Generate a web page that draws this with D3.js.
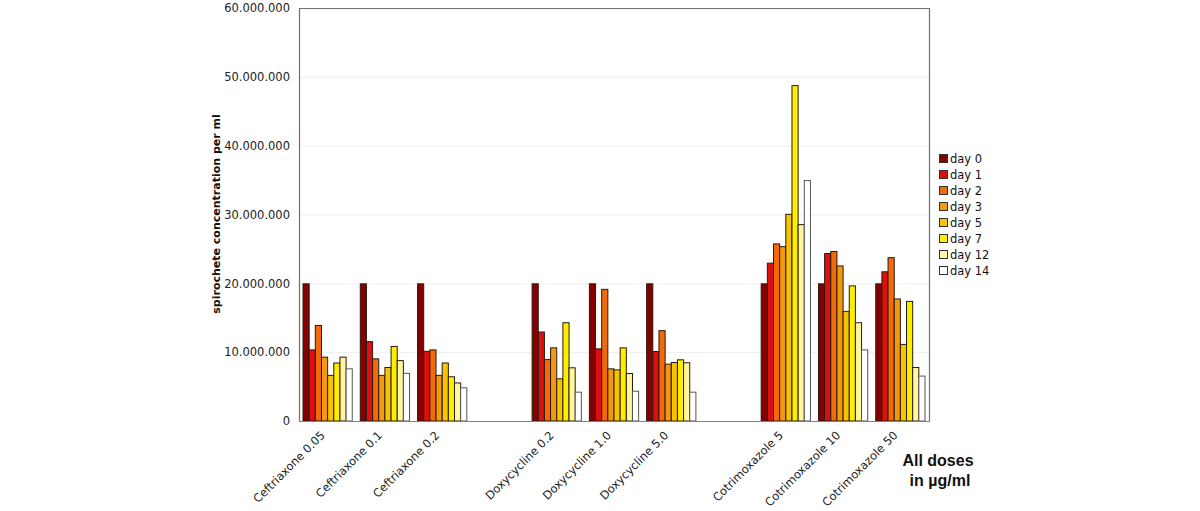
<!DOCTYPE html>
<html><head><meta charset="utf-8">
<script src="https://cdn.jsdelivr.net/npm/d3@7"></script>
<style>body{margin:0;background:#fff;}svg{display:block;font-family:"DejaVu Sans",Verdana,sans-serif;}</style>
</head><body><svg id="c" width="1200" height="511"></svg>
<script>
const categories = ["Ceftriaxone 0.05","Ceftriaxone 0.1","Ceftriaxone 0.2","gap1","Doxycycline 0.2","Doxycycline 1.0","Doxycycline 5.0","gap2","Cotrimoxazole 5","Cotrimoxazole 10","Cotrimoxazole 50"];
const seriesNames = ["day 0","day 1","day 2","day 3","day 5","day 7","day 12","day 14"];
const seriesColors = ["#850000","#dd1010","#f26a0a","#f3990f","#f7c500","#fdee00","#fff7a0","#ffffff"];
const day0  = [20000000,20000000,20000000,null,20000000,20000000,20000000,null,20000000,20000000,20000000];
const day1  = [10400000,11600000,10200000,null,13000000,10550000,10170000,null,23000000,24400000,21750000];
const day2  = [13950000,9100000,10400000,null,9000000,19200000,13200000,null,25800000,24700000,23800000];
const day3  = [9350000,6700000,6700000,null,10700000,7650000,8330000,null,25400000,22600000,17800000];
const day5  = [6700000,7850000,8500000,null,6200000,7500000,8570000,null,30100000,16000000,11200000];
const day7  = [8500000,10900000,6500000,null,14350000,10700000,8960000,null,48800000,19700000,17450000];
const day12 = [9350000,8850000,5600000,null,7800000,6970000,8530000,null,28600000,14350000,7850000];
const day14 = [7650000,7000000,4900000,null,4260000,4400000,4260000,null,35000000,10400000,6600000];
const yTicks = [0,10000000,20000000,30000000,40000000,50000000,60000000];
const yTickLabels = ["0","10.000.000","20.000.000","30.000.000","40.000.000","50.000.000","60.000.000"];
const series = [day0,day1,day2,day3,day5,day7,day12,day14];

const svg = d3.select("#c");
const L=299,R=929,T=8,B=421;
const x = d3.scaleBand().domain(categories).range([L,R]).paddingInner(0.14).paddingOuter(0.07);
const xs = d3.scaleBand().domain(seriesNames).range([0,x.bandwidth()]);
const y = d3.scaleLinear().domain([0,60000000]).range([B,T]);

// gridlines
svg.append("g").selectAll("line").data(yTicks.slice(1,-1)).join("line")
  .attr("x1",L).attr("x2",R).attr("y1",d=>y(d)+0.5).attr("y2",d=>y(d)+0.5)
  .attr("stroke","#eeeeee");

// bars
const g = svg.append("g");
series.forEach((vals,si)=>{
  g.append("g").selectAll("rect").data(categories.map((c,i)=>({c,v:vals[i]})).filter(d=>d.v!=null)).join("rect")
    .attr("x",d=>x(d.c)+xs(seriesNames[si]))
    .attr("y",d=>y(d.v)+0.5)
    .attr("width",xs.bandwidth())
    .attr("height",d=>B-y(d.v)-0.5)
    .attr("fill",seriesColors[si])
    .attr("stroke",si===7?"#555":"#2a1a10").attr("stroke-width",1);
});

// frame
svg.append("path").attr("d",`M${L+0.5},${B+0.5}V${T+0.5}H${R+0.5}V${B+0.5}`).attr("fill","none").attr("stroke","#707070").attr("stroke-width",1.2);
svg.append("line").attr("x1",L).attr("x2",R+1).attr("y1",B+0.5).attr("y2",B+0.5).attr("stroke","#808080").attr("stroke-width",1.2);

// y axis labels
const ya = d3.axisLeft(y).tickValues(yTicks).tickFormat((d,i)=>yTickLabels[i]).tickSize(0).tickPadding(9);
const yg = svg.append("g").attr("transform",`translate(${L},0)`).call(ya);
yg.select(".domain").remove();
yg.selectAll("text").attr("font-size",11.5).attr("fill","#222").attr("font-family","DejaVu Sans, Verdana, sans-serif");

// x axis labels
const xa = d3.axisBottom(x).tickValues(categories.filter(c=>!c.startsWith("gap"))).tickSize(0);
const xg = svg.append("g").attr("transform",`translate(0,${B})`).call(xa);
xg.select(".domain").remove();
xg.selectAll("text").attr("font-size",11.5).attr("fill","#222").attr("font-family","DejaVu Sans, Verdana, sans-serif")
  .attr("text-anchor","end").attr("dy",null).attr("y",0)
  .attr("transform","translate(-2,15) rotate(-45)");

// y title
svg.append("text").attr("transform","translate(220,214) rotate(-90)").attr("text-anchor","middle")
  .attr("font-size",11).attr("font-weight","bold").attr("fill","#111").text("spirochete concentration per ml");

// x note
svg.append("text").attr("x",938).attr("y",466).attr("text-anchor","middle").attr("font-family","Liberation Sans, Arial, sans-serif")
  .attr("font-size",16).attr("font-weight","bold").attr("fill","#111").text("All doses");
svg.append("text").attr("x",940).attr("y",486).attr("text-anchor","middle").attr("font-family","Liberation Sans, Arial, sans-serif")
  .attr("font-size",16).attr("font-weight","bold").attr("fill","#111").text("in µg/ml");

// legend
const lg = svg.append("g").attr("transform","translate(939,154)");
seriesNames.forEach((n,i)=>{
  const r = lg.append("g").attr("transform",`translate(0,${i*16})`);
  r.append("rect").attr("x",0.5).attr("y",0.5).attr("width",8).attr("height",8).attr("fill",seriesColors[i]).attr("stroke","#333");
  r.append("text").attr("x",11).attr("y",8.5).attr("font-size",11.5).attr("fill","#111").text(n);
});
</script></body></html>
